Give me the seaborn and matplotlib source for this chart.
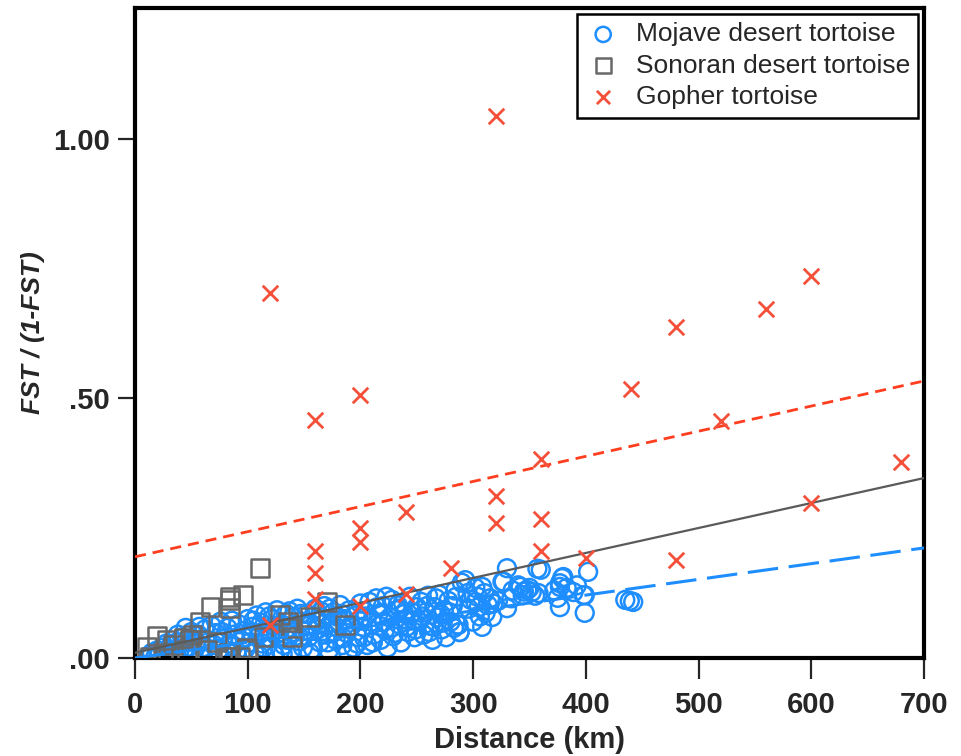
import matplotlib
matplotlib.use("Agg")
import matplotlib.pyplot as plt
import seaborn as sns
import pandas as pd
import numpy as np

# ---------------- data ----------------
mojave_x = [12,15,18,20,22,25,27,30,32,35,37,40,42,44,46,48,50,28,38,45,
            52,54,56,58,60,62,64,66,68,70,72,74,76,78,80,82,84,86,88,90,92,94,96,98,100,57,67,77,87,97,
            102,104,106,108,110,112,114,116,118,120,122,124,126,128,130,132,134,136,138,140,142,144,146,148,150,105,111,117,123,129,135,141,147,103,113,125,137,149,119,131,
            152,154,156,158,160,162,164,166,168,170,172,174,176,178,180,182,184,186,188,190,192,194,196,198,200,155,161,167,173,179,185,191,197,153,165,177,189,199,171,183,
            202,204,206,208,210,212,214,216,218,220,222,224,226,228,230,232,234,236,238,240,242,244,246,248,250,205,211,217,223,229,235,241,247,203,215,227,239,249,221,233,
            252,254,256,258,260,262,264,266,268,270,272,274,276,278,280,282,284,286,288,290,255,261,267,273,279,285,259,271,283,265,
            293,302,304,302,308,313,311,317,308,287,288,296,298,306,310,315,300,305,318,295,
            330,327,330,342,348,352,358,344,357,326,335,340,350,355,345,322,334,360,
            379,377,383,375,377,402,399,399,389,377,398,380,372,392,
            435,439,442]
mojave_y = [.004,.010,.002,.015,.008,.020,.005,.012,.025,.006,.030,.018,.040,.010,.035,.022,.050,.028,.045,.058,
            .012,.030,.045,.004,.020,.055,.035,.008,.062,.025,.048,.015,.070,.038,.005,.058,.028,.072,.045,.012,.065,.034,.052,.018,.075,.060,.002,.050,.022,.040,
            .030,.060,.010,.082,.045,.068,.020,.088,.055,.038,.075,.005,.092,.048,.065,.025,.085,.058,.012,.078,.042,.095,.032,.070,.052,.072,.003,.040,.062,.015,.035,.050,.085,.050,.028,.045,.090,.020,.080,.008,
            .085,.040,.065,.018,.095,.055,.030,.078,.100,.045,.015,.068,.088,.035,.058,.102,.025,.075,.048,.092,.062,.020,.082,.040,.105,.010,.070,.052,.095,.080,.038,.060,.028,.062,.090,.050,.012,.072,.030,.085,
            .060,.090,.025,.108,.070,.045,.115,.085,.035,.100,.055,.020,.078,.112,.048,.092,.065,.030,.105,.075,.050,.118,.088,.040,.098,.080,.030,.062,.118,.042,.095,.060,.072,.040,.098,.058,.085,.055,.070,.102,
            .070,.108,.045,.088,.120,.062,.035,.098,.078,.122,.055,.092,.040,.110,.070,.100,.130,.064,.050,.145,.080,.050,.115,.068,.088,.118,.100,.085,.058,.060,
            .150,.135,.118,.108,.137,.102,.087,.079,.060,.064,.050,.095,.112,.080,.125,.115,.070,.098,.105,.125,
            .173,.147,.096,.137,.131,.127,.125,.121,.172,.147,.130,.140,.135,.120,.128,.110,.115,.170,
            .154,.137,.135,.116,.098,.166,.121,.087,.127,.144,.121,.156,.130,.140,
            .112,.110,.108]

sonoran_x = [111,96,84,84,67,58,19.5,170,155,129,138,186,114,99,84,73,49,34,25,13,64,46,28,11,136,139,100,43,51,93,82,84]
sonoran_y = [.173,.121,.112,.096,.098,.069,.042,.108,.079,.083,.058,.064,.040,.019,.002,.031,.035,.025,.010,.002,.015,.015,.035,.021,.069,.040,.015,.038,.044,.002,.010,.118]

gopher_x = [120,160,200,320,440,480,560,600,520,680,600,480,400,360,360,360,320,320,280,240,240,200,200,200,160,160,160,120]
gopher_y = [.703,.459,.507,1.044,.518,.638,.672,.736,.457,.378,.299,.189,.192,.383,.268,.207,.312,.260,.174,.281,.123,.250,.224,.100,.207,.164,.114,.064]

# regression lines: (intercept, slope)
fit_mojave = (0.0, 0.000303)
fit_sonoran = (0.010, 0.000481)
fit_gopher = (0.195, 0.000484)
line_x = [0, 700]

x_ticks = [0, 100, 200, 300, 400, 500, 600, 700]
y_ticks = [0.0, 0.5, 1.0]
y_tick_labels = [".00", ".50", "1.00"]

# ---------------- style ----------------
sns.set_style("white")
plt.rcParams['font.family'] = ['Liberation Sans', 'DejaVu Sans']

BLUE = "#1E8EFF"
GRAY = "#686868"
RED = "#F4503A"
RED_LINE = "#FF3D1F"

fig = plt.figure(figsize=(9.62, 7.56), dpi=100)
ax = fig.add_axes([135/962, 98/756, 789/962, 650/756])

df_m = pd.DataFrame({"x": mojave_x, "y": mojave_y})
df_s = pd.DataFrame({"x": sonoran_x, "y": sonoran_y})
df_g = pd.DataFrame({"x": gopher_x, "y": gopher_y})

sns.scatterplot(data=df_m, x="x", y="y", ax=ax, marker="o", s=165,
                facecolors="none", edgecolor=BLUE, linewidth=1.8, zorder=2,
                label="Mojave desert tortoise")
sns.scatterplot(data=df_s, x="x", y="y", ax=ax, marker="s", s=165,
                facecolors="none", edgecolor=GRAY, linewidth=1.8, zorder=3,
                label="Sonoran desert tortoise")

def fit_df(fit):
    return pd.DataFrame({"x": line_x, "y": [fit[0] + fit[1]*v for v in line_x]})

sns.lineplot(data=fit_df(fit_mojave), x="x", y="y", ax=ax, color=BLUE,
             linewidth=2.2, dashes=False, zorder=4, legend=False)
ax.lines[-1].set_dashes([10, 3.5])
sns.lineplot(data=fit_df(fit_sonoran), x="x", y="y", ax=ax, color="#5a5a5a",
             linewidth=1.6, zorder=4, legend=False)
sns.lineplot(data=fit_df(fit_gopher), x="x", y="y", ax=ax, color=RED_LINE,
             linewidth=2.0, zorder=4, legend=False)
ax.lines[-1].set_dashes([4, 2.5])

sns.scatterplot(data=df_g, x="x", y="y", ax=ax, marker="x", s=125,
                color=RED, linewidth=2.0, zorder=5,
                label="Gopher tortoise")

ax.set_xlim(0, 700)
ax.set_ylim(0, 1.2524)
ax.set_xticks(x_ticks)
ax.set_xticklabels([str(v) for v in x_ticks])
ax.set_yticks(y_ticks)
ax.set_yticklabels(y_tick_labels)

for sp in ax.spines.values():
    sp.set_linewidth(3.0)
    sp.set_color("black")
    sp.set_visible(True)

ax.tick_params(axis="x", direction="out", length=15, width=1.6, pad=9,
               labelsize=21, bottom=True, top=False)
ax.tick_params(axis="y", direction="out", length=12, width=1.6, pad=6,
               labelsize=21, left=True, right=False)
for lab in ax.get_xticklabels() + ax.get_yticklabels():
    lab.set_fontweight("bold")

ax.set_xlabel("Distance (km)", fontsize=21, fontweight="bold", labelpad=5)
ax.set_ylabel("FST / (1-FST)", fontsize=19, fontweight="bold", style="italic", labelpad=6)

leg = ax.legend(loc="upper right", bbox_to_anchor=(0.996, 0.995), fontsize=19,
                frameon=True, fancybox=False, framealpha=1, edgecolor="black",
                borderpad=0.32, labelspacing=0.28, handletextpad=0.55, handlelength=1.35,
                borderaxespad=0.1, markerscale=0.85)
leg.get_frame().set_linewidth(1.8)

fig.savefig("out.png", dpi=100)
